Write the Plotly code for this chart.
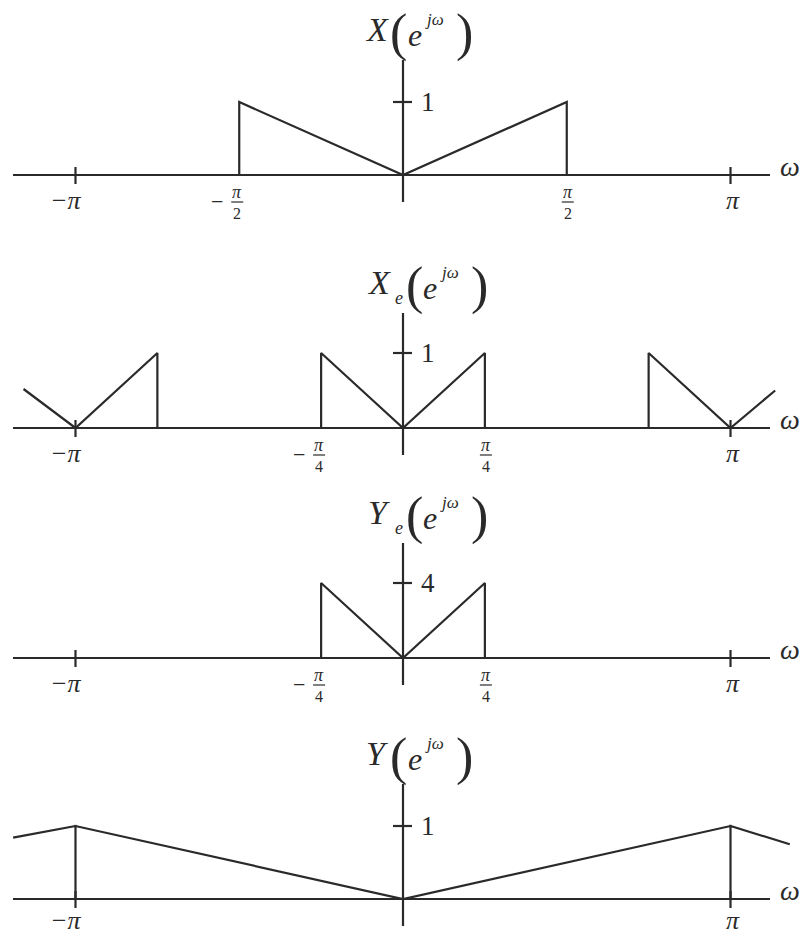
import numpy as np
import plotly.graph_objects as go

PI = np.pi

# ---- spectra (frequency breakpoints in rad, magnitudes) ----
x_w = [-PI / 2, -PI / 2, 0, PI / 2, PI / 2]
x_mag = [0, 1, 0, 1, 0]

xe_w = [-3.64, -PI, -3 * PI / 4, -3 * PI / 4, -PI / 4, -PI / 4, 0,
        PI / 4, PI / 4, 3 * PI / 4, 3 * PI / 4, PI, 3.57]
xe_mag = [0.52, 0, 1, 0, 0, 1, 0, 1, 0, 0, 1, 0, 0.5]

ye_w = [-PI / 4, -PI / 4, 0, PI / 4, PI / 4]
ye_mag = [0, 4, 0, 4, 0]

y_w = [-3.74, -PI, -PI, -PI, 0, PI, PI, PI, 3.71]
y_mag = [0.84, 1, 0, 1, 0, 1, 0, 1, 0.75]

# tick labels on the frequency axis: (position, sign, denominator or None)
x_ticks = [(-PI, "−", None), (-PI / 2, "−", "2"), (PI / 2, "", "2"), (PI, "", None)]
xe_ticks = [(-PI, "−", None), (-PI / 4, "−", "4"), (PI / 4, "", "4"), (PI, "", None)]
ye_ticks = [(-PI, "−", None), (-PI / 4, "−", "4"), (PI / 4, "", "4"), (PI, "", None)]
y_ticks = [(-PI, "−", None), (PI, "", None)]

# magnitude tick (value, label) on the vertical axis
x_level = (1, "1")
xe_level = (1, "1")
ye_level = (4, "4")
y_level = (1, "1")

# ---- page geometry (pixels) ----
W, H = 802, 938
X0 = 403.0          # pixel column of w = 0
PXR = 104.25        # pixels per radian
AX_L, AX_R = 13, 770
INK = "#2a2a2a"
SERIF = "Liberation Serif, Times New Roman, serif"

panels = [
    dict(w=x_w, m=x_mag, ticks=x_ticks, level=x_level, axis=175, unit=73.0,
         band=(0, 234), name="X", sub=None, pi_dy=-25),
    dict(w=xe_w, m=xe_mag, ticks=xe_ticks, level=xe_level, axis=428, unit=75.0,
         band=(234, 470), name="X", sub="e", pi_dy=-25),
    dict(w=ye_w, m=ye_mag, ticks=ye_ticks, level=ye_level, axis=658, unit=75.0 / 4,
         band=(470, 702), name="Y", sub="e", pi_dy=-25),
    dict(w=y_w, m=y_mag, ticks=y_ticks, level=y_level, axis=899, unit=73.0,
         band=(702, 938), name="Y", sub=None, pi_dy=-21),
]

fig = go.Figure()
shapes, annotations = [], []
layout = dict(
    width=W, height=H, margin=dict(l=0, r=0, t=0, b=0),
    paper_bgcolor="white", plot_bgcolor="white", showlegend=False,
    xaxis=dict(range=[-X0 / PXR, (W - X0) / PXR], visible=False, fixedrange=True),
)


def ann(text, yr, x, y, dx, dy, size, italic=True):
    if italic:
        text = "<i>" + text + "</i>"
    annotations.append(dict(
        text=text, xref="x", yref=yr, x=x, y=y, xshift=dx, yshift=dy,
        showarrow=False, xanchor="center", yanchor="middle", borderpad=0,
        font=dict(family=SERIF, size=size, color=INK)))


def seg(yr, x0, x1, y0, y1, width=2.2):
    shapes.append(dict(type="line", xref="x", yref=yr, x0=x0, x1=x1, y0=y0, y1=y1,
                       line=dict(color=INK, width=width)))


for i, p in enumerate(panels, start=1):
    yname = "yaxis" if i == 1 else f"yaxis{i}"
    yref = "y" if i == 1 else f"y{i}"
    top, bot = p["band"]
    a, s = p["axis"], p["unit"]
    layout[yname] = dict(
        domain=[1 - bot / H, 1 - top / H],
        range=[-(bot - a) / s, (a - top) / s],
        visible=False, fixedrange=True, anchor="x")

    # horizontal frequency axis and vertical magnitude axis
    seg(yref, (AX_L - X0) / PXR, (AX_R - X0) / PXR, 0, 0)
    seg(yref, 0, 0, -27 / s, 115 / s)
    # level tick on the vertical axis
    lv, lt = p["level"]
    seg(yref, -10 / PXR, 9 / PXR, lv, lv)
    ann(lt, yref, 0, lv, 25, 0, 27, italic=False)

    # spectrum
    fig.add_trace(go.Scatter(x=p["w"], y=p["m"], mode="lines", xaxis="x", yaxis=yref,
                             line=dict(color=INK, width=2.2), hoverinfo="skip"))

    # frequency tick labels
    for pos, sign, den in p["ticks"]:
        if den is None:
            seg(yref, pos, pos, -9 / s, 8 / s)
            ann(sign + "π", yref, pos, 0, -9 if sign else 2, p["pi_dy"], 26)
        else:
            cx = -2 if sign else 1
            ann("π", yref, pos, 0, cx, -17, 18)
            seg(yref, pos + (cx - 6) / PXR, pos + (cx + 6) / PXR, -27 / s, -27 / s, 1.2)
            ann(den, yref, pos, 0, cx, -38, 16, italic=False)
            if sign:
                ann("−", yref, pos, 0, cx - 20, -26, 22, italic=False)

    # omega label at the end of the frequency axis
    ann("ω", yref, 0, 0, 387, 9, 28)

    # panel title, e.g. X_e(e^{jω})
    if p["sub"]:
        parts = [(p["name"], -24, 146, 34, True), (p["sub"], -4, 130, 18, True),
                 ("(", 11, 142, 52, False), ("e", 27, 140, 32, True),
                 ("jω", 46, 156, 17, True), (")", 76, 142, 52, False)]
    else:
        parts = [(p["name"], -26, 146, 34, True), ("(", -5, 142, 52, False),
                 ("e", 12, 140, 32, True), ("jω", 31, 156, 17, True),
                 (")", 61, 142, 52, False)]
    for txt, dx, dy, size, it in parts:
        ann(txt, yref, 0, 0, dx, dy, size, italic=it)

layout["shapes"] = shapes
layout["annotations"] = annotations
fig.update_layout(**layout)
fig.write_html("out.html")
